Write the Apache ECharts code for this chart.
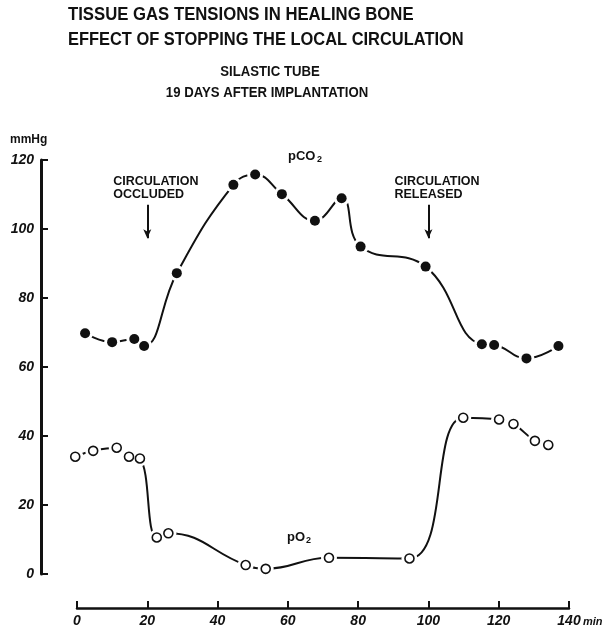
<!DOCTYPE html>
<html>
<head>
<meta charset="utf-8">
<script src="https://cdn.jsdelivr.net/npm/echarts@6/dist/echarts.min.js"></script>
<style>
  html, body { margin: 0; padding: 0; background: #fff; }
  #chart { width: 610px; height: 632px; }
</style>
</head>
<body>
<div id="chart"></div>
<script>
// Time after start of recording (min) and measured tensions (mmHg)
const pco2Time = [2.3, 10.0, 16.3, 19.1, 28.4, 44.5, 50.7, 58.3, 67.7, 75.3, 80.7, 99.2, 115.2, 118.7, 127.9, 137.0];
const pco2Vals = [69.8, 67.2, 68.1, 66.1, 87.2, 112.8, 115.8, 110.1, 102.4, 108.9, 94.9, 89.1, 66.6, 66.4, 62.5, 66.1];
const po2Time = [-0.5, 4.6, 11.3, 14.8, 17.9, 22.7, 26.0, 48.0, 53.7, 71.7, 94.6, 109.9, 120.1, 124.2, 130.3, 134.1];
const po2Vals = [34.0, 35.7, 36.6, 34.0, 33.5, 10.6, 11.8, 2.6, 1.5, 4.7, 4.5, 45.3, 44.8, 43.5, 38.6, 37.4];
const xTicks = [0, 20, 40, 60, 80, 100, 120, 140];
const yTicks = [0, 20, 40, 60, 80, 100, 120];
// Moments when the circulation was stopped and restored (min)
const eventTimes = [20, 100];
const eventLabels = [['CIRCULATION', 'OCCLUDED'], ['CIRCULATION', 'RELEASED']];

const pairs = (xs, ys) => xs.map((x, i) => [x, ys[i]]);
const pco2 = pairs(pco2Time, pco2Vals);
const po2 = pairs(po2Time, po2Vals);

const INK = '#111';
const FONT = '"Liberation Sans", Arial, sans-serif';

const chart = echarts.init(document.getElementById('chart'), null, { renderer: 'canvas' });

const option = {
  backgroundColor: '#fff',
  animation: false,
  grid: { left: 77, right: 41, top: 160, bottom: 58 },
  xAxis: {
    type: 'value', min: 0, max: 140, interval: 20, offset: 34,
    axisLine: { show: true, onZero: false, lineStyle: { color: INK, width: 2.5 } },
    axisTick: { show: true, inside: true, length: 7, lineStyle: { color: INK, width: 2 } },
    axisLabel: {
      margin: 6, color: INK, fontFamily: FONT, fontSize: 14, fontWeight: 'bold', fontStyle: 'italic',
      formatter: v => xTicks.includes(v) ? String(v) : ''
    },
    splitLine: { show: false }
  },
  yAxis: {
    type: 'value', min: 0, max: 120, interval: 20, offset: 36,
    axisLine: { show: true, onZero: false, lineStyle: { color: INK, width: 3 } },
    axisTick: { show: true, inside: true, length: 7, lineStyle: { color: INK, width: 2 } },
    axisLabel: {
      margin: 7, color: INK, fontFamily: FONT, fontSize: 14, fontWeight: 'bold', fontStyle: 'italic',
      formatter: v => yTicks.includes(v) ? String(v) : ''
    },
    splitLine: { show: false }
  },
  series: [
    {
      type: 'line', data: pco2, smooth: 0.45, showSymbol: false, clip: false, z: 2,
      lineStyle: { color: INK, width: 2 },
      markLine: {
        silent: true, symbol: ['none', 'arrow'], symbolSize: [6, 9],
        label: { show: false },
        lineStyle: { color: INK, width: 2, type: 'solid' },
        data: eventTimes.map(t => [{ coord: [t, 107] }, { coord: [t, 97.3] }])
      }
    },
    {
      type: 'line', data: po2, smooth: 0.45, showSymbol: false, clip: false, z: 2,
      lineStyle: { color: INK, width: 2 }
    },
    // white halos leave a small gap between the curve and each point
    { type: 'scatter', data: pco2, symbolSize: 16, clip: false, z: 3, itemStyle: { color: '#fff', opacity: 1 }, silent: true },
    { type: 'scatter', data: po2, symbolSize: 16, clip: false, z: 3, itemStyle: { color: '#fff', opacity: 1 }, silent: true },
    { type: 'scatter', data: pco2, symbolSize: 10, clip: false, z: 4, itemStyle: { color: INK, opacity: 1 } },
    {
      type: 'scatter', data: po2, symbolSize: 9, clip: false, z: 4,
      itemStyle: { color: '#fff', borderColor: INK, borderWidth: 1.6, opacity: 1 }
    }
  ]
};
chart.setOption(option);

const px = (x, y) => chart.convertToPixel({ gridIndex: 0 }, [x, y]);

const graphics = [
  { type: 'text', x: 68, y: 5, scaleX: 0.88, style: { text: 'TISSUE GAS TENSIONS IN HEALING BONE', fill: INK, font: 'bold 19px ' + FONT } },
  { type: 'text', x: 68, y: 30, scaleX: 0.865, style: { text: 'EFFECT OF STOPPING THE LOCAL CIRCULATION', fill: INK, font: 'bold 19px ' + FONT } },
  { type: 'text', x: 270, y: 72, scaleX: 0.94, style: { text: 'SILASTIC TUBE', fill: INK, font: 'bold 14px ' + FONT, align: 'center', verticalAlign: 'middle' } },
  { type: 'text', x: 267, y: 93, scaleX: 0.94, style: { text: '19 DAYS AFTER IMPLANTATION', fill: INK, font: 'bold 14px ' + FONT, align: 'center', verticalAlign: 'middle' } },
  { type: 'text', x: 10, y: 140, style: { text: 'mmHg', fill: INK, font: 'bold 12px ' + FONT, verticalAlign: 'middle' } },
  { type: 'text', x: 288, y: 156, style: { text: 'pCO', fill: INK, font: 'bold 13px ' + FONT, verticalAlign: 'middle' } },
  { type: 'text', x: 317, y: 160, style: { text: '2', fill: INK, font: 'bold 9px ' + FONT, verticalAlign: 'middle' } },
  { type: 'text', x: 287, y: 537, style: { text: 'pO', fill: INK, font: 'bold 13px ' + FONT, verticalAlign: 'middle' } },
  { type: 'text', x: 306, y: 541, style: { text: '2', fill: INK, font: 'bold 9px ' + FONT, verticalAlign: 'middle' } },
  { type: 'text', x: 583, y: 622, style: { text: 'min', fill: INK, font: 'italic bold 11px ' + FONT, verticalAlign: 'middle' } }
];
eventTimes.forEach((t, i) => {
  const p = px(t, 107);
  graphics.push({
    type: 'text', x: p[0] - 34, y: 175,
    style: { text: eventLabels[i].join('\n'), fill: INK, font: 'bold 12.5px ' + FONT, lineHeight: 13 }
  });
});
chart.setOption({ graphic: graphics });
</script>
</body>
</html>
